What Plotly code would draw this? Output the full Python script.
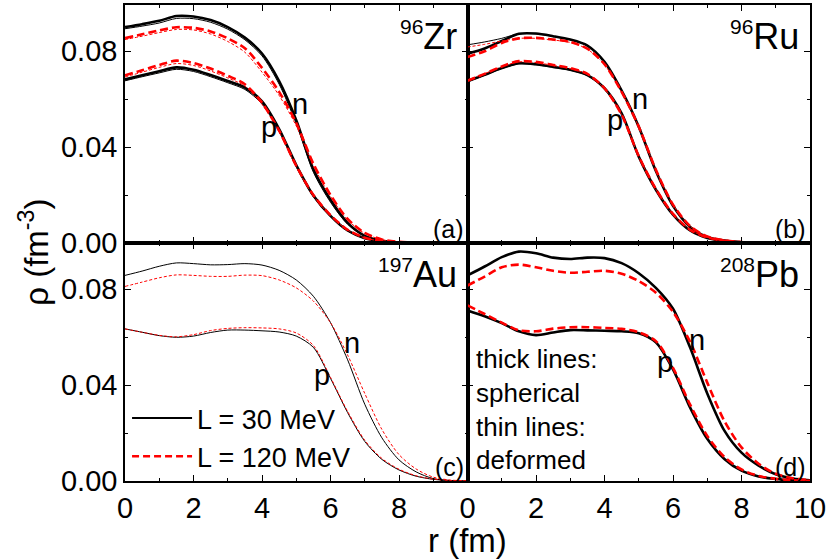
import plotly.graph_objects as go
from plotly.subplots import make_subplots

# radial grid (fm)
r = [0, 0.5, 1, 1.5, 2, 2.5, 3, 3.5, 4, 4.5, 5, 5.5, 6, 6.5, 7, 7.5, 8, 8.5, 9, 9.5, 10]

# 96Zr  (sph = thick, def = thin)
zr_n_30_sph = [0.0900, 0.0912, 0.0926, 0.0946, 0.0944, 0.0929, 0.0900, 0.0856, 0.0790, 0.0675, 0.0512, 0.0307, 0.0180, 0.0084, 0.0030, 0.0009, 0.0002, 0.0001, 0, 0, 0]
zr_n_30_def = [0.0893, 0.0904, 0.0917, 0.0936, 0.0935, 0.0920, 0.0891, 0.0847, 0.0780, 0.0662, 0.0497, 0.0295, 0.0170, 0.0078, 0.0028, 0.0008, 0.0002, 0.0001, 0, 0, 0]
zr_n_120_sph = [0.0854, 0.0870, 0.0886, 0.0899, 0.0897, 0.0882, 0.0853, 0.0812, 0.0730, 0.0630, 0.0500, 0.0330, 0.0200, 0.0100, 0.0042, 0.0015, 0.0005, 0.0002, 0.0001, 0, 0]
zr_n_120_def = [0.0848, 0.0862, 0.0877, 0.0890, 0.0888, 0.0871, 0.0840, 0.0795, 0.0712, 0.0615, 0.0488, 0.0322, 0.0194, 0.0096, 0.0040, 0.0014, 0.0005, 0.0002, 0.0001, 0, 0]
zr_p_30_sph = [0.0682, 0.0699, 0.0716, 0.0732, 0.0722, 0.0700, 0.0675, 0.0648, 0.0590, 0.0475, 0.0325, 0.0198, 0.0113, 0.0052, 0.0020, 0.0007, 0.0002, 0, 0, 0, 0]
zr_p_30_def = [0.0676, 0.0693, 0.0709, 0.0724, 0.0715, 0.0693, 0.0668, 0.0640, 0.0580, 0.0465, 0.0318, 0.0193, 0.0110, 0.0050, 0.0019, 0.0007, 0.0002, 0, 0, 0, 0]
zr_p_120_sph = [0.0699, 0.0720, 0.0742, 0.0760, 0.0750, 0.0727, 0.0697, 0.0662, 0.0585, 0.0468, 0.0322, 0.0200, 0.0116, 0.0055, 0.0022, 0.0008, 0.0003, 0.0001, 0, 0, 0]
zr_p_120_def = [0.0692, 0.0712, 0.0732, 0.0748, 0.0740, 0.0717, 0.0688, 0.0654, 0.0578, 0.0462, 0.0318, 0.0197, 0.0114, 0.0054, 0.0021, 0.0008, 0.0003, 0.0001, 0, 0, 0]

# 96Ru
ru_n_30_sph = [0.0789, 0.0811, 0.0842, 0.0872, 0.0873, 0.0862, 0.0848, 0.0823, 0.0755, 0.0635, 0.0485, 0.0300, 0.0155, 0.0067, 0.0025, 0.0010, 0.0003, 0.0001, 0, 0, 0]
ru_n_30_def = [0.0826, 0.0838, 0.0853, 0.0872, 0.0872, 0.0861, 0.0847, 0.0822, 0.0753, 0.0632, 0.0482, 0.0298, 0.0154, 0.0066, 0.0025, 0.0010, 0.0003, 0.0001, 0, 0, 0]
ru_n_120_sph = [0.0775, 0.0799, 0.0834, 0.0853, 0.0855, 0.0848, 0.0838, 0.0810, 0.0745, 0.0630, 0.0485, 0.0305, 0.0160, 0.0070, 0.0027, 0.0011, 0.0004, 0.0001, 0, 0, 0]
ru_n_120_def = [0.0817, 0.0828, 0.0842, 0.0853, 0.0853, 0.0846, 0.0836, 0.0808, 0.0743, 0.0628, 0.0484, 0.0304, 0.0159, 0.0070, 0.0027, 0.0011, 0.0004, 0.0001, 0, 0, 0]
ru_p_30_sph = [0.0674, 0.0701, 0.0729, 0.0749, 0.0745, 0.0734, 0.0722, 0.0700, 0.0645, 0.0540, 0.0360, 0.0222, 0.0118, 0.0052, 0.0021, 0.0008, 0.0003, 0.0001, 0, 0, 0]
ru_p_30_def = [0.0672, 0.0699, 0.0727, 0.0747, 0.0743, 0.0732, 0.0720, 0.0698, 0.0643, 0.0538, 0.0359, 0.0221, 0.0117, 0.0052, 0.0021, 0.0008, 0.0003, 0.0001, 0, 0, 0]
ru_p_120_sph = [0.0676, 0.0705, 0.0736, 0.0758, 0.0755, 0.0742, 0.0729, 0.0705, 0.0645, 0.0535, 0.0362, 0.0225, 0.0121, 0.0055, 0.0023, 0.0009, 0.0003, 0.0001, 0, 0, 0]
ru_p_120_def = [0.0680, 0.0706, 0.0735, 0.0755, 0.0752, 0.0740, 0.0727, 0.0703, 0.0643, 0.0534, 0.0361, 0.0224, 0.0120, 0.0055, 0.0023, 0.0009, 0.0003, 0.0001, 0, 0, 0]

# 197Au (deformed only)
au_n_30_def = [0.0857, 0.0875, 0.0895, 0.0909, 0.0906, 0.0901, 0.0902, 0.0906, 0.0900, 0.0878, 0.0838, 0.0770, 0.0660, 0.0505, 0.0320, 0.0180, 0.0088, 0.0038, 0.0010, 0.0002, 0]
au_n_120_def = [0.0811, 0.0829, 0.0847, 0.0859, 0.0857, 0.0853, 0.0853, 0.0858, 0.0856, 0.0838, 0.0805, 0.0750, 0.0660, 0.0525, 0.0365, 0.0215, 0.0110, 0.0050, 0.0016, 0.0004, 0.0001]
au_p_30_def = [0.0634, 0.0620, 0.0606, 0.0599, 0.0604, 0.0619, 0.0629, 0.0629, 0.0626, 0.0621, 0.0604, 0.0557, 0.0428, 0.0285, 0.0165, 0.0090, 0.0046, 0.0020, 0.0007, 0.0002, 0]
au_p_120_def = [0.0634, 0.0620, 0.0607, 0.0601, 0.0610, 0.0627, 0.0636, 0.0639, 0.0638, 0.0634, 0.0617, 0.0565, 0.0432, 0.0290, 0.0170, 0.0094, 0.0049, 0.0022, 0.0008, 0.0002, 0]

# 208Pb (spherical only)
pb_n_30_sph = [0.0857, 0.0894, 0.0933, 0.0956, 0.0949, 0.0931, 0.0925, 0.0931, 0.0929, 0.0908, 0.0866, 0.0805, 0.0718, 0.0556, 0.0365, 0.0210, 0.0118, 0.0064, 0.0028, 0.0010, 0.0003]
pb_n_120_sph = [0.0815, 0.0852, 0.0891, 0.0902, 0.0891, 0.0876, 0.0868, 0.0872, 0.0876, 0.0864, 0.0833, 0.0785, 0.0705, 0.0580, 0.0410, 0.0250, 0.0140, 0.0072, 0.0030, 0.0011, 0.0003]
pb_p_30_sph = [0.0711, 0.0687, 0.0658, 0.0624, 0.0608, 0.0619, 0.0629, 0.0628, 0.0626, 0.0624, 0.0616, 0.0578, 0.0465, 0.0306, 0.0176, 0.0092, 0.0043, 0.0019, 0.0008, 0.0003, 0.0001]
pb_p_120_sph = [0.0732, 0.0696, 0.0660, 0.0628, 0.0624, 0.0635, 0.0641, 0.0641, 0.0638, 0.0634, 0.0620, 0.0583, 0.0472, 0.0318, 0.0188, 0.0100, 0.0048, 0.0021, 0.0009, 0.0003, 0.0001]

FONT = "Liberation Sans, Arial, sans-serif"
RED = "#ff0000"

THICK_BLACK = dict(color="black", width=2.6)
THIN_BLACK = dict(color="black", width=1)
THICK_RED = dict(color=RED, width=2.6, dash="8px,4px")
THIN_RED = dict(color=RED, width=1, dash="3px,2px")

panels = [
    (1, 1, [(zr_n_30_def, THIN_BLACK), (zr_p_30_def, THIN_BLACK),
            (zr_n_30_sph, THICK_BLACK), (zr_p_30_sph, THICK_BLACK),
            (zr_n_120_def, THIN_RED), (zr_p_120_def, THIN_RED),
            (zr_n_120_sph, THICK_RED), (zr_p_120_sph, THICK_RED)]),
    (1, 2, [(ru_n_30_def, THIN_BLACK), (ru_p_30_def, THIN_BLACK),
            (ru_n_30_sph, THICK_BLACK), (ru_p_30_sph, THICK_BLACK),
            (ru_n_120_def, THIN_RED), (ru_p_120_def, THIN_RED),
            (ru_n_120_sph, THICK_RED), (ru_p_120_sph, THICK_RED)]),
    (2, 1, [(au_n_30_def, THIN_BLACK), (au_p_30_def, THIN_BLACK),
            (au_n_120_def, THIN_RED), (au_p_120_def, THIN_RED)]),
    (2, 2, [(pb_n_30_sph, THICK_BLACK), (pb_p_30_sph, THICK_BLACK),
            (pb_n_120_sph, THICK_RED), (pb_p_120_sph, THICK_RED)]),
]

fig = make_subplots(rows=2, cols=2, horizontal_spacing=0, vertical_spacing=0)

for row, col, curves in panels:
    for ys, style in curves:
        fig.add_trace(go.Scatter(x=r, y=ys, mode="lines", line=dict(style, shape="spline", smoothing=0.8),
                                 showlegend=False, hoverinfo="skip"), row=row, col=col)

# legend entries (panel c)
fig.add_trace(go.Scatter(x=[None], y=[None], mode="lines", name="L = 30 MeV",
                         line=dict(color="black", width=2)), row=2, col=1)
fig.add_trace(go.Scatter(x=[None], y=[None], mode="lines", name="L = 120 MeV",
                         line=dict(color=RED, width=2.5, dash="7px,4px")), row=2, col=1)

axis_common = dict(showline=True, mirror="allticks", linecolor="black", linewidth=1.5,
                   ticks="inside", ticklen=6, tickwidth=1.2, tickcolor="black",
                   showgrid=False, zeroline=False,
                   tickfont=dict(family=FONT, size=29, color="black"))

for row in (1, 2):
    for col in (1, 2):
        xt = [0, 2, 4, 6, 8] if col == 1 else [0, 2, 4, 6, 8, 10]
        fig.update_xaxes(axis_common, range=[0, 10], tickvals=xt, ticktext=[str(v) for v in xt],
                         minor=dict(ticks="inside", ticklen=3, tickcolor="black", tickvals=[1, 3, 5, 7, 9]),
                         showticklabels=(row == 2), row=row, col=col)
        fig.update_yaxes(axis_common, range=[0, 0.0992], tickvals=[0, 0.04, 0.08],
                         ticktext=["0.00", "0.04", "0.08"],
                         minor=dict(ticks="inside", ticklen=3, tickcolor="black", tickvals=[0.02, 0.06]),
                         showticklabels=(col == 1), row=row, col=col)

annotations = []


def label(text, xref, yref, x, y, size, xanchor="center", yanchor="middle", align="center"):
    annotations.append(dict(text=text, xref=xref, yref=yref, x=x, y=y, showarrow=False,
                            xanchor=xanchor, yanchor=yanchor, align=align,
                            font=dict(family=FONT, size=size, color="black")))


# nuclide names
nuclei = [("96", "Zr", "x domain", "y domain"), ("96", "Ru", "x2 domain", "y2 domain"),
          ("197", "Au", "x3 domain", "y3 domain"), ("208", "Pb", "x4 domain", "y4 domain")]
for mass, sym, xr, yr in nuclei:
    label("<sup><span style='font-size:21px'>%s</span></sup>%s" % (mass, sym), xr, yr, 0.975, 0.87, 36,
          xanchor="right")

# panel tags
for tag, xr, yr in [("(a)", "x domain", "y domain"), ("(b)", "x2 domain", "y2 domain"),
                    ("(c)", "x3 domain", "y3 domain"), ("(d)", "x4 domain", "y4 domain")]:
    label(tag, xr, yr, 0.995, 0.06, 25, xanchor="right")

# n / p markers
np_labels = [("n", "x", "y", 5.10, 0.0579), ("p", "x", "y", 4.20, 0.0483),
             ("n", "x2", "y2", 5.03, 0.0600), ("p", "x2", "y2", 4.30, 0.0513),
             ("n", "x3", "y3", 6.62, 0.0575), ("p", "x3", "y3", 5.74, 0.0441),
             ("n", "x4", "y4", 6.70, 0.0587), ("p", "x4", "y4", 5.76, 0.0495)]
for t, xr, yr, x, y in np_labels:
    label(t, xr, yr, x, y, 29)

label("thick lines:<br>spherical<br>thin lines:<br>deformed", "x4 domain", "y4 domain", 0.02, 0.30, 26,
      xanchor="left", align="left")

# axis titles
label("r (fm)", "paper", "paper", 0.5, -0.125, 33)
annotations.append(dict(text="\u03c1 (fm<sup>-3</sup>)", xref="paper", yref="paper", x=-0.134, y=0.48,
                        showarrow=False, textangle=-90, xanchor="center", yanchor="middle",
                        font=dict(family=FONT, size=33, color="black")))

fig.update_layout(
    width=830, height=560,
    margin=dict(l=125, r=20, t=3, b=79),
    plot_bgcolor="white", paper_bgcolor="white",
    annotations=annotations,
    showlegend=True,
    legend=dict(x=0.003, y=0.0, xanchor="left", yanchor="bottom", bgcolor="rgba(0,0,0,0)",
                font=dict(family=FONT, size=27, color="black"), itemwidth=60, tracegroupgap=0),
)

fig.write_html("out.html", config={"displayModeBar": False},
               post_script="document.body.style.margin='0';")
